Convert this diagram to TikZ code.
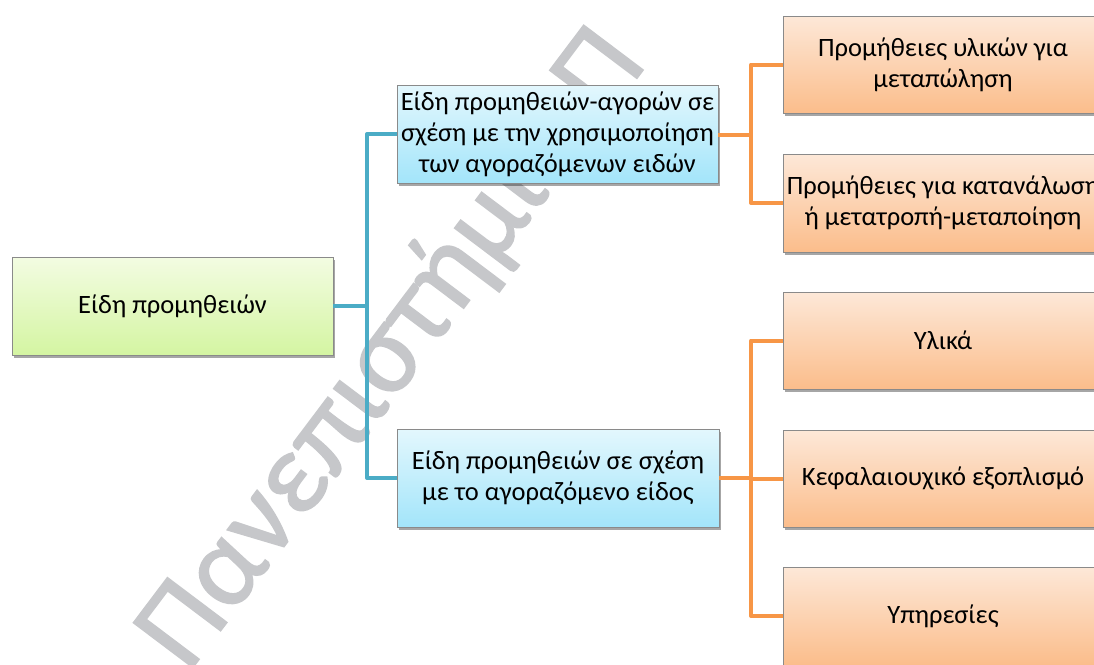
\documentclass[tikz,border=0pt]{standalone}
\usepackage{fontspec}
\setmainfont{Carlito}
\newfontfamily\wmfont[FakeBold=1.3]{Carlito}
\usetikzlibrary{shadows}
\definecolor{lineblue}{HTML}{4BACC6}
\definecolor{lineorange}{HTML}{F79646}
\definecolor{greentop}{HTML}{F3FCE2}
\definecolor{greenbot}{HTML}{D4F5A2}
\definecolor{bluetop}{HTML}{E3F7FD}
\definecolor{bluebot}{HTML}{A3E5FA}
\definecolor{orangetop}{HTML}{FDE8D8}
\definecolor{orangebot}{HTML}{FBBD8B}
\definecolor{boxborder}{HTML}{8A8A8A}
\definecolor{wmark}{HTML}{C6C7CA}
\begin{document}
\begin{tikzpicture}[x=1pt,y=-1pt,
  box/.style={draw=boxborder, line width=0.8pt, inner sep=0pt, align=center,
    font=\fontsize{26.5}{31}\selectfont,
    drop shadow={shadow xshift=2pt, shadow yshift=-3pt, opacity=0.35, fill=black}},
  greenbox/.style={box, top color=greentop, bottom color=greenbot},
  bluebox/.style={box, top color=bluetop, bottom color=bluebot},
  orangebox/.style={box, top color=orangetop, bottom color=orangebot},
  blueline/.style={draw=lineblue, line width=4pt, line join=round},
  orangeline/.style={draw=lineorange, line width=4pt, line join=round}]
\clip (0,0) rectangle (1094,664);
\fill[white] (0,0) rectangle (1094,664);
% watermark
\node[anchor=base west, rotate=53, text=wmark, inner sep=0pt,
  font=\wmfont\fontsize{116}{116}\selectfont] (wm) at (188,674) {Πανεπιστήμιο Π};
% connectors
\coordinate (bt) at (367,306);
\draw[blueline] (bt |- 0,135) -- (bt |- 0,478);
\node[greenbox, minimum width=321pt, minimum height=98pt] (root) at (172.5,306) {Είδη προμηθειών};
\node[bluebox, minimum width=321pt, minimum height=98pt] (b1) at (557.5,134)
  {Είδη προμηθειών-αγορών σε\\σχέση με την χρησιμοποίηση\\των αγοραζόμενων ειδών};
\node[bluebox, minimum width=322pt, minimum height=98pt] (b2) at (558,478)
  {Είδη προμηθειών σε σχέση\\με το αγοραζόμενο είδος};
\node[orangebox, minimum width=320pt, minimum height=97pt] (o1) at (943,64.5)
  {Προμήθειες υλικών για\\μεταπώληση};
\node[orangebox, minimum width=320pt, minimum height=98pt] (o2) at (943,203)
  {Προμήθειες για κατανάλωση\\ή μετατροπή-μεταποίηση};
\node[orangebox, minimum width=320pt, minimum height=97pt] (o3) at (943,340.5) {Υλικά};
\node[orangebox, minimum width=320pt, minimum height=97pt] (o4) at (943,478.5) {Κεφαλαιουχικό εξοπλισμό};
\node[orangebox, minimum width=320pt, minimum height=98pt] (o5) at (943,616) {Υπηρεσίες};
% blue tree
\draw[blueline] (root.east) -- (bt);
\draw[blueline] (bt) |- (b1.west);
\draw[blueline] (bt) |- (b2.west);
% orange trees
\coordinate (ot1) at (751,135);
\coordinate (ot2) at (751,478);
\draw[orangeline] (b1.east |- ot1) -- (ot1);
\draw[orangeline] (ot1) |- (o1.west);
\draw[orangeline] (ot1) |- (o2.west);
\draw[orangeline] (b2.east) -- (ot2);
\draw[orangeline] (ot2) |- (o3.west);
\draw[orangeline] (ot2) |- (o4.west);
\draw[orangeline] (ot2) |- (o5.west);
\end{tikzpicture}
\end{document}
